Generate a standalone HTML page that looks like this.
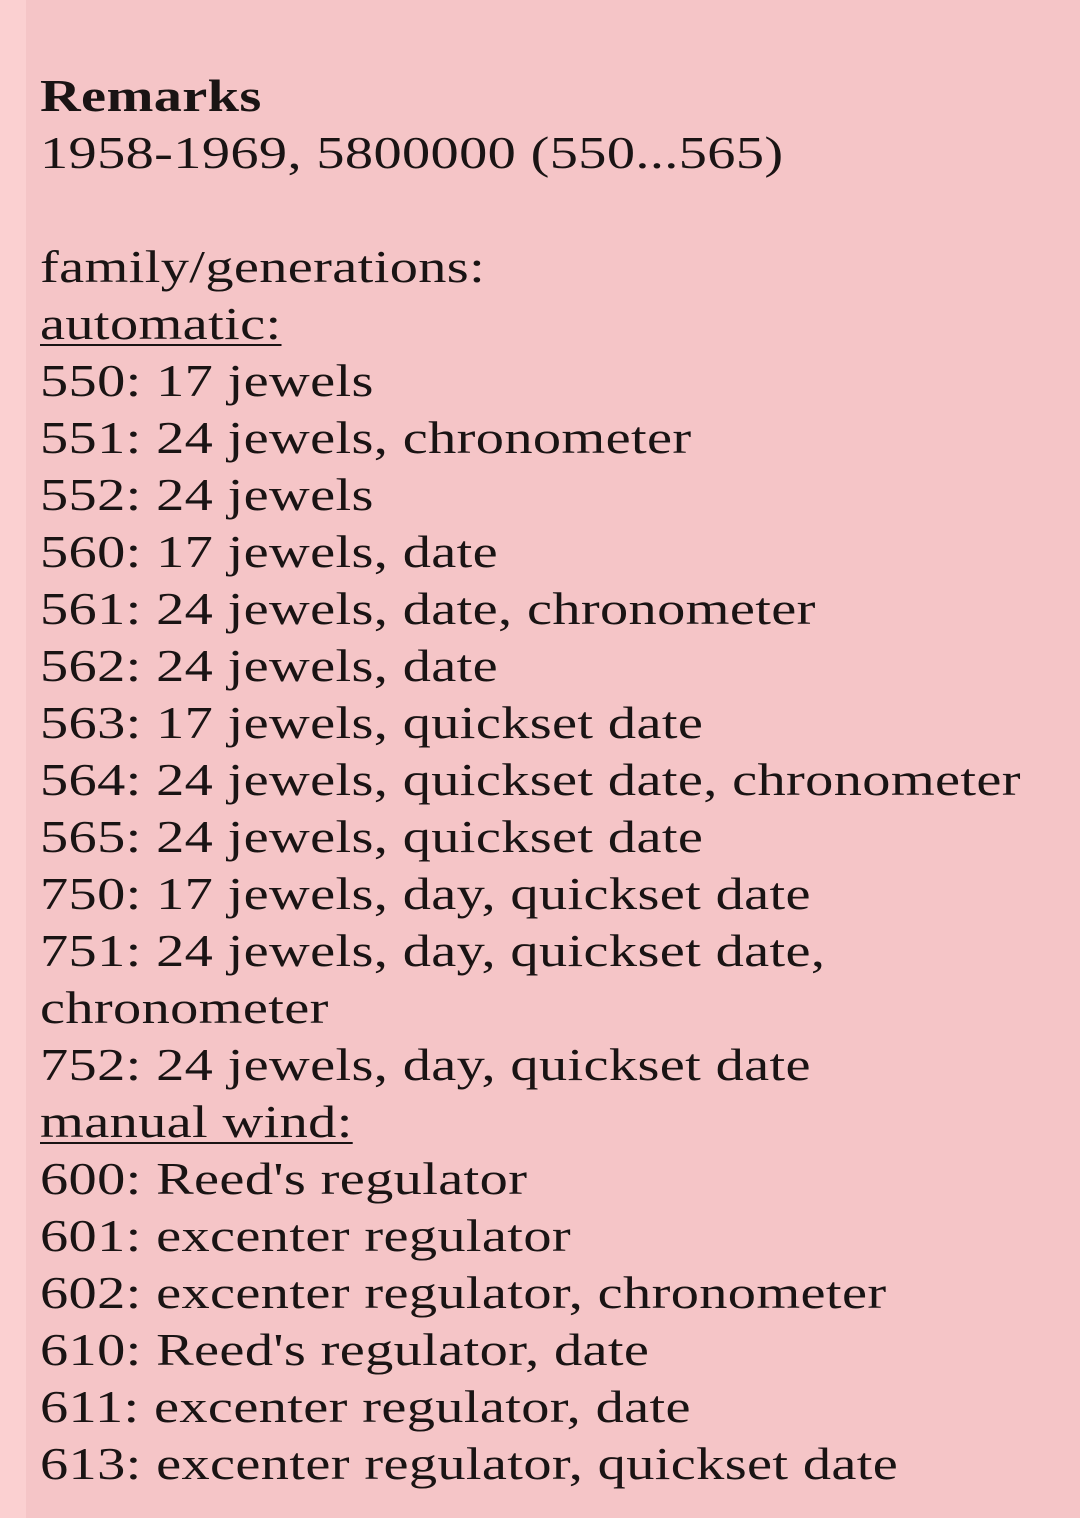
<!DOCTYPE html>
<html><head><meta charset="utf-8"><style>
html,body{margin:0;padding:0;}
body{width:1080px;height:1518px;background:#fbd0d1;position:relative;overflow:hidden;}
.main{position:absolute;left:26px;top:0;width:1054px;height:1518px;background:#f5c5c7;}
.t{position:absolute;left:40px;top:67px;font-family:"Liberation Serif",serif;font-size:46px;line-height:57px;color:#1a1414;white-space:nowrap;letter-spacing:0.3px;transform:scaleX(1.225);transform-origin:0 0;}
b{font-weight:bold;}
u{text-decoration:underline;text-decoration-thickness:2px;text-underline-offset:5px;}
</style></head><body>
<div class="main"></div>
<div class="t"><b>Remarks</b><br>1958-1969, 5800000 (550...565)<br><br>family/generations:<br><u>automatic:</u><br>550: 17 jewels<br>551: 24 jewels, chronometer<br>552: 24 jewels<br>560: 17 jewels, date<br>561: 24 jewels, date, chronometer<br>562: 24 jewels, date<br>563: 17 jewels, quickset date<br>564: 24 jewels, quickset date, chronometer<br>565: 24 jewels, quickset date<br>750: 17 jewels, day, quickset date<br>751: 24 jewels, day, quickset date,<br>chronometer<br>752: 24 jewels, day, quickset date<br><u>manual wind:</u><br>600: Reed's regulator<br>601: excenter regulator<br>602: excenter regulator, chronometer<br>610: Reed's regulator, date<br>611: excenter regulator, date<br>613: excenter regulator, quickset date</div>
</body></html>
